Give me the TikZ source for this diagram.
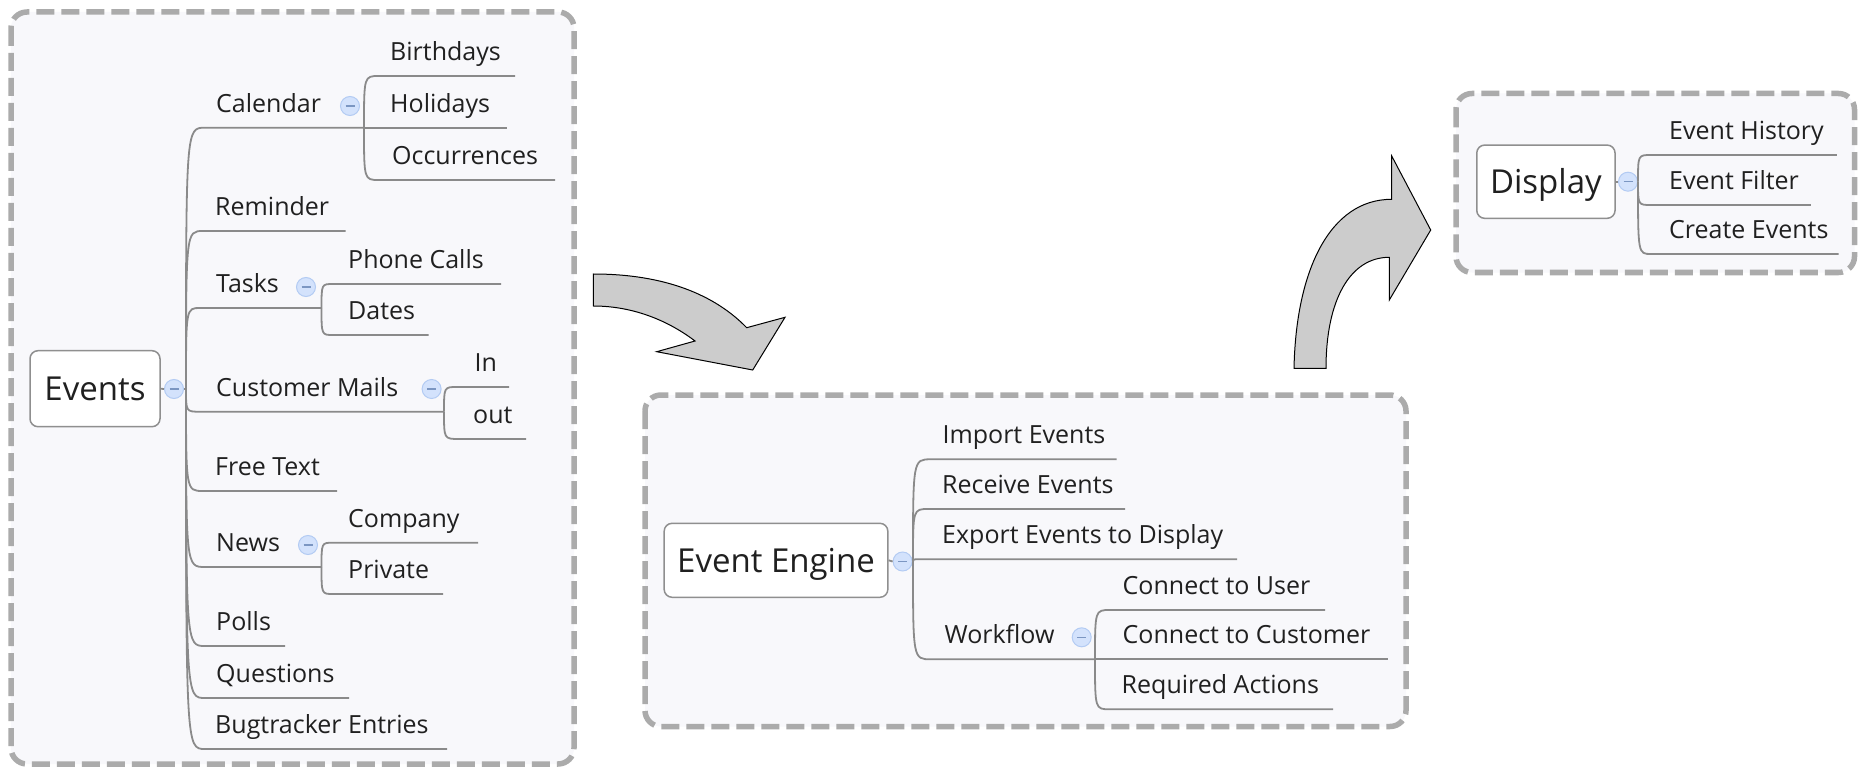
\documentclass[tikz,border=0pt]{standalone}
\usepackage{fontspec}
\setmainfont{Open Sans}
\definecolor{panelgray}{HTML}{ABABAB}
\definecolor{panelfill}{HTML}{F8F8FB}
\definecolor{boxgray}{HTML}{8F8F8F}
\definecolor{linegray}{HTML}{8A8A8A}
\definecolor{txt}{HTML}{202020}
\definecolor{cfill}{HTML}{D3E2FC}
\definecolor{cborder}{HTML}{B3CBF3}
\definecolor{cminus}{HTML}{7B96C2}
\definecolor{arrowgray}{HTML}{CCCCCC}
\tikzset{
  panel/.style={draw=panelgray, line width=5.5pt, dash pattern=on 18pt off 7pt, fill=panelfill, rounded corners=16pt},
  rootbox/.style={draw=boxgray, line width=1.5pt, fill=white, rounded corners=8pt, inner sep=0pt,
    font=\fontsize{33}{40}\selectfont, text=txt, text height=24pt, text depth=0pt},
  conn/.style={draw=linegray, line width=1.8pt},
  lbl/.style={anchor=base west, inner sep=0pt, font=\fontsize{25}{30}\selectfont, text=txt},
  collapse/.style={circle, draw=cborder, fill=cfill, minimum size=19pt, inner sep=0pt, line width=1pt},
  minusbar/.style={draw=cminus, line width=1.2pt},
  bigarrow/.style={fill=arrowgray, draw=black, line width=1pt, line join=miter},
}
% \mmchild{name}{text}{text x}{underline y}{start x}{end x}{origin}
\newcommand\mmchild[7]{%
  \node[lbl] (#1) at ({#3},{#4-15.5}) {#2};
  \coordinate (#1-s) at ({#5},{#4});
  \coordinate (#1-e) at ({#6},{#4});
  \draw[conn] (#7) .. controls (#7 |- #1-s) .. (#1-s) -- (#1-e);
}
\newcommand\mmcollapse[3]{%
  \node[collapse] (#1) at ({#2},{#3}) {};
  \draw[minusbar] ([xshift=-4.5pt]#1.center) -- ([xshift=4.5pt]#1.center);
}
\begin{document}
\begin{tikzpicture}[x=1pt,y=-1pt]
\useasboundingbox (0,0) rectangle (1862,767);
\fill[white] (0,0) rectangle (1862,767);

% ---------- panels ----------
\draw[panel] (11,12) rectangle (574,764);
\draw[panel] (645,395) rectangle (1406,726.5);
\draw[panel] (1456,93.5) rectangle (1854.5,272.5);

% ---------- big arrows ----------
\draw[bigarrow] (593.3,274) .. controls (665,274) and (715,295) .. (746.7,327.7)
  -- (785,317.3) -- (752.7,370) -- (656.7,351.7) -- (695,341)
  .. controls (670,322) and (635,306) .. (593.3,306) -- cycle;
\draw[bigarrow] (1294,368.3) .. controls (1296,270) and (1330,199.3) .. (1391.7,199.3)
  -- (1391.7,156) -- (1430.7,230) -- (1389.3,300) -- (1389.3,257.3)
  .. controls (1350,257.3) and (1326,300) .. (1326,368.3) -- cycle;

% ---------- Events map ----------
\node[rootbox, minimum width=130pt, minimum height=76pt] (events) at (95,388.7) {Events};
\mmcollapse{events-c}{174}{389}
\coordinate (events-o) at (186,389);
\draw[conn] (events.east) -- (events-c.west);
\draw[conn] (events-c.east) -- (events-o);

\mmchild{calendar}{Calendar}{216}{127.7}{205}{364}{events-o}
\mmchild{reminder}{Reminder}{215}{231}{203}{345.6}{events-o}
\mmchild{tasks}{Tasks}{216}{308}{200}{321.5}{events-o}
\mmchild{cmails}{Customer Mails}{216}{411.7}{200}{444}{events-o}
\mmchild{freetext}{Free Text}{215}{491}{203}{337}{events-o}
\mmchild{news}{News}{216}{567}{205}{321.5}{events-o}
\mmchild{polls}{Polls}{216}{646}{205}{285}{events-o}
\mmchild{questions}{Questions}{216}{698}{205}{349}{events-o}
\mmchild{bugs}{Bugtracker Entries}{215}{749}{205}{447}{events-o}

\mmcollapse{calendar-c}{350}{106}
\mmchild{birthdays}{Birthdays}{390}{76}{379}{515}{calendar-e}
\mmchild{holidays}{Holidays}{390}{127.7}{379}{507}{calendar-e}
\mmchild{occurrences}{Occurrences}{392}{180}{379}{555}{calendar-e}

\mmcollapse{tasks-c}{306}{287}
\mmchild{phone}{Phone Calls}{348}{284}{333}{501}{tasks-e}
\mmchild{dates}{Dates}{348}{335}{333}{428.6}{tasks-e}

\mmcollapse{cmails-c}{431.6}{389}
\mmchild{in}{In}{474.5}{387}{457}{509}{cmails-e}
\mmchild{out}{out}{473}{439}{459}{526}{cmails-e}

\mmcollapse{news-c}{308}{545}
\mmchild{company}{Company}{348}{542.7}{333}{478}{news-e}
\mmchild{private}{Private}{348}{594}{333}{443}{news-e}

% ---------- Event Engine map ----------
\node[rootbox, minimum width=223.7pt, minimum height=74pt] (engine) at (776,560.3) {Event Engine};
\mmcollapse{engine-c}{902.6}{561.5}
\coordinate (engine-o) at (913,561.5);
\draw[conn] (engine.east) -- (engine-c.west);
\draw[conn] (engine-c.east) -- (engine-o);

\mmchild{import}{Import Events}{942.4}{459.3}{931}{1116.5}{engine-o}
\mmchild{receive}{Receive Events}{942}{509}{928.5}{1125}{engine-o}
\mmchild{export}{Export Events to Display}{942}{559.3}{918.5}{1237}{engine-o}
\mmchild{workflow}{Workflow}{944.4}{659.3}{931}{1095}{engine-o}

\mmcollapse{workflow-c}{1081.7}{637.3}
\mmchild{cuser}{Connect to User}{1122.5}{610}{1110}{1325}{workflow-e}
\mmchild{ccust}{Connect to Customer}{1122.5}{659.3}{1110}{1387.6}{workflow-e}
\mmchild{reqact}{Required Actions}{1121.5}{709.3}{1110}{1333}{workflow-e}

% ---------- Display map ----------
\node[rootbox, minimum width=138.3pt, minimum height=73.3pt] (display) at (1545.9,181.7) {Display};
\mmcollapse{display-c}{1628}{181.7}
\coordinate (display-o) at (1638,181.7);
\draw[conn] (display.east) -- (display-c.west);
\draw[conn] (display-c.east) -- (display-o);

\mmchild{ehist}{Event History}{1669}{155}{1651}{1836.8}{display-o}
\mmchild{efilter}{Event Filter}{1669}{205}{1651}{1810.8}{display-o}
\mmchild{ecreate}{Create Events}{1669}{254}{1651}{1838.6}{display-o}
\end{tikzpicture}
\end{document}
